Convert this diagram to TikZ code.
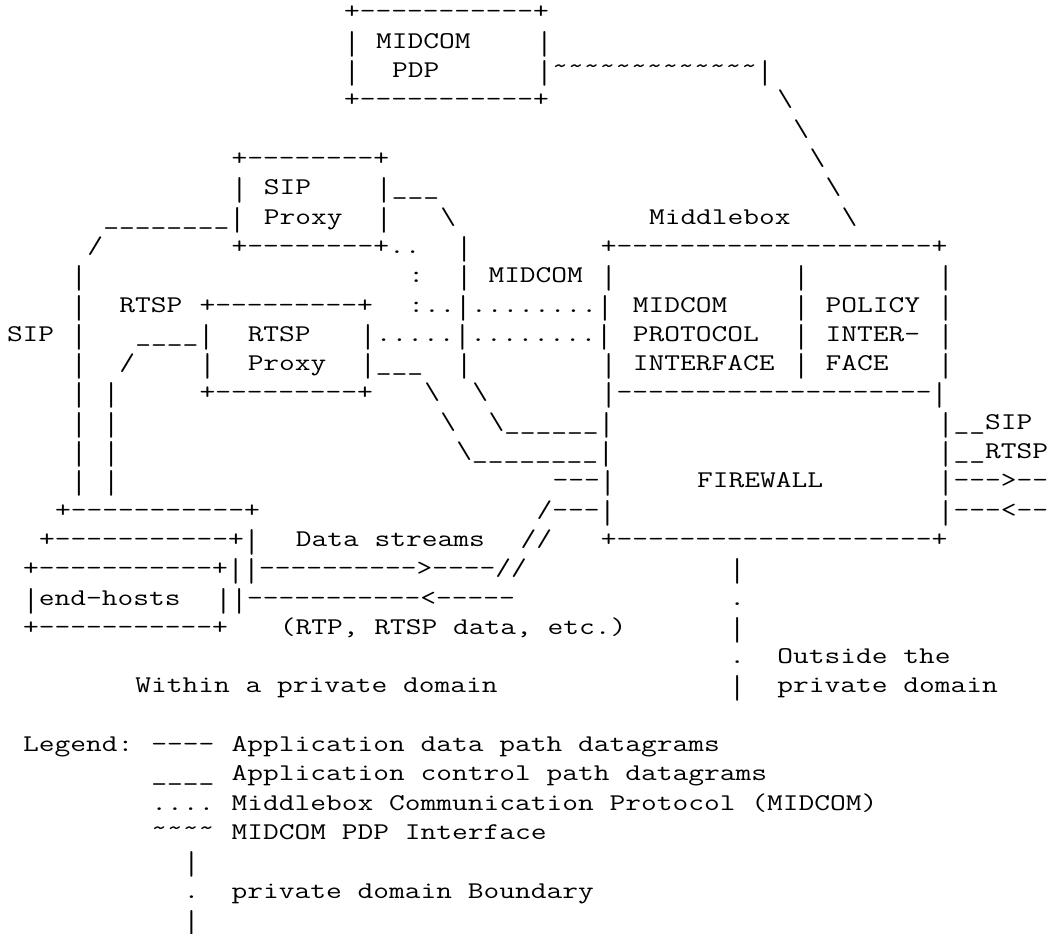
\documentclass[tikz,border=0pt]{standalone}
\usepackage{fontspec}
\usepackage{graphicx}
\newfontfamily\cour[FakeStretch=1.274]{Latin Modern Mono}
\newcommand{\bsl}{\textbackslash}
\newcommand{\tld}{\raisebox{4pt}{\char`\~}}
\newcommand{\uds}{\char`\_}
\newcommand{\vb}{\raisebox{-6pt}[0pt][0pt]{\scalebox{1}[1.38]{\char`\|}}}
\newcommand{\T}[3]{\node[asciitext] (n#2c#1) at ({7+#1*16.05pt},{-(19pt+#2*29.3pt)}) {#3};}
\tikzset{asciitext/.style={anchor=base west,inner sep=0pt,outer sep=0pt,text=black,font=\fontsize{24pt}{24pt}\selectfont\cour}}
\catcode`\|=\active
\def|{\vb}
\begin{document}
\begin{tikzpicture}[x=1pt,y=1pt]
\useasboundingbox (0,0) rectangle (1047pt,-934pt);
\fill[white] (0,0) rectangle (1047pt,-934pt);
\T{21}{0}{+-----------+}
\T{21}{1}{|}\T{23}{1}{MIDCOM}\T{33}{1}{|}
\T{21}{2}{|}\T{24}{2}{PDP}\T{33}{2}{|\tld\tld\tld\tld\tld\tld\tld\tld\tld\tld\tld\tld\tld|}
\T{21}{3}{+-----------+}\T{48}{3}{\bsl}
\T{49}{4}{\bsl}
\T{14}{5}{+--------+}\T{50}{5}{\bsl}
\T{14}{6}{|}\T{16}{6}{SIP}\T{23}{6}{|\uds\uds\uds}\T{51}{6}{\bsl}
\T{6}{7}{\uds\uds\uds\uds\uds\uds\uds\uds|}\T{16}{7}{Proxy}\T{23}{7}{|}\T{27}{7}{\bsl}\T{40}{7}{Middlebox}\T{52}{7}{\bsl}
\T{5}{8}{/}\T{14}{8}{+--------+..}\T{28}{8}{|}\T{37}{8}{+--------------------+}
\T{4}{9}{|}\T{25}{9}{:}\T{28}{9}{|}\T{30}{9}{MIDCOM}\T{37}{9}{|}\T{49}{9}{|}\T{58}{9}{|}
\T{4}{10}{|}\T{7}{10}{RTSP}\T{12}{10}{+---------+}\T{25}{10}{:..|........|}\T{39}{10}{MIDCOM}\T{49}{10}{|}\T{51}{10}{POLICY}\T{58}{10}{|}
\T{0}{11}{SIP}\T{4}{11}{|}\T{8}{11}{\uds\uds\uds\uds|}\T{15}{11}{RTSP}\T{22}{11}{|.....|........|}\T{39}{11}{PROTOCOL}\T{49}{11}{|}\T{51}{11}{INTER-}\T{58}{11}{|}
\T{4}{12}{|}\T{7}{12}{/}\T{12}{12}{|}\T{15}{12}{Proxy}\T{22}{12}{|\uds\uds\uds}\T{28}{12}{|}\T{37}{12}{|}\T{39}{12}{INTERFACE}\T{49}{12}{|}\T{51}{12}{FACE}\T{58}{12}{|}
\T{4}{13}{|}\T{6}{13}{|}\T{12}{13}{+---------+}\T{26}{13}{\bsl}\T{29}{13}{\bsl}\T{37}{13}{|--------------------|}
\T{4}{14}{|}\T{6}{14}{|}\T{27}{14}{\bsl}\T{30}{14}{\bsl\uds\uds\uds\uds\uds\uds|}\T{58}{14}{|\uds\uds{}SIP}
\T{4}{15}{|}\T{6}{15}{|}\T{28}{15}{\bsl\uds\uds\uds\uds\uds\uds\uds\uds|}\T{58}{15}{|\uds\uds{}RTSP}
\T{4}{16}{|}\T{6}{16}{|}\T{34}{16}{---|}\T{43}{16}{FIREWALL}\T{58}{16}{|--->--}
\T{3}{17}{+-----------+}\T{33}{17}{/---|}\T{58}{17}{|---<--}
\T{2}{18}{+-----------+|}\T{18}{18}{Data streams}\T{32}{18}{//}\T{37}{18}{+--------------------+}
\T{1}{19}{+-----------+||---------->----//}\T{45}{19}{|}
\T{1}{20}{|end-hosts}\T{13}{20}{||-----------<-----}\T{45}{20}{.}
\T{1}{21}{+-----------+}\T{17}{21}{(RTP, RTSP data, etc.)}\T{45}{21}{|}
\T{45}{22}{.}\T{48}{22}{Outside the}
\T{8}{23}{Within a private domain}\T{45}{23}{|}\T{48}{23}{private domain}
\T{1}{25}{Legend:}\T{9}{25}{----}\T{14}{25}{Application data path datagrams}
\T{9}{26}{\uds\uds\uds\uds}\T{14}{26}{Application control path datagrams}
\T{9}{27}{....}\T{14}{27}{Middlebox Communication Protocol (MIDCOM)}
\T{9}{28}{\tld\tld\tld\tld}\T{14}{28}{MIDCOM PDP Interface}
\T{11}{29}{|}
\T{11}{30}{.}\T{14}{30}{private domain Boundary}
\T{11}{31}{|}
\end{tikzpicture}
\end{document}
